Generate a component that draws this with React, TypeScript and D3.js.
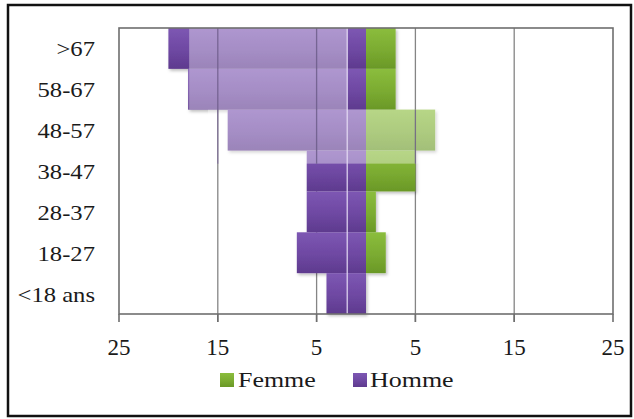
import React from "react";
import * as d3 from "d3";

const categories = [">67", "58-67", "48-57", "38-47", "28-37", "18-27", "<18 ans"];
const hommeValues = [20, 18, 14, 6, 6, 7, 4];
const femmeValues = [3, 3, 7, 5, 1, 2, 0];
const tickValues = [-25, -15, -5, 5, 15, 25];
const gridValues = [-15, -5, 5, 15];
const seriesNames = ["Femme", "Homme"];
// light (washed-out) regions seen in the picture, in data units
const highlightFrom = [-17.9, -16];
const highlightTo = [-1.9, 7.5];
const highlightTopCat = [">67", "48-57"];
const highlightBottomCat = ["58-67", "38-47"];
const highlightBottomFrac = [1, 0.32];
const lightLineValue = -1.9;

const W = 634;
const H = 419;

export default function App() {
  const x = d3.scaleLinear().domain([-25, 25]).range([119, 613]);
  const y = d3.scaleBand<string>().domain(categories).range([28, 314]).padding(0);
  const bw = y.bandwidth();
  const plotTop = 28;
  const plotBottom = 314;

  const hl = highlightFrom.map((f, i) => {
    const y0 = y(highlightTopCat[i])!;
    const y1 = y(highlightBottomCat[i])! + bw * highlightBottomFrac[i];
    return { x0: x(f), x1: x(highlightTo[i]), y0, y1 };
  });

  return (
    <svg
      width={W}
      height={H}
      style={{ position: "absolute", left: 0, top: 0, background: "#fff" }}
    >
      <style>{`.lbl { font-family: 'Liberation Serif', 'Times New Roman', serif !important; }`}</style>
      <defs>
        <linearGradient id="gPurple" x1="0" y1="0" x2="0" y2="1">
          <stop offset="0%" stopColor="#7d57b3" />
          <stop offset="55%" stopColor="#6e48a2" />
          <stop offset="100%" stopColor="#5e3a8e" />
        </linearGradient>
        <linearGradient id="gGreen" x1="0" y1="0" x2="0" y2="1">
          <stop offset="0%" stopColor="#8bbd3d" />
          <stop offset="55%" stopColor="#7bab31" />
          <stop offset="100%" stopColor="#6a9827" />
        </linearGradient>
        <filter id="shadow" x="-10%" y="-10%" width="130%" height="140%">
          <feDropShadow dx="1.5" dy="2" stdDeviation="1.5" floodColor="#000" floodOpacity="0.25" />
        </filter>
        <clipPath id="hlClip">
          {hl.map((r, i) => (
            <rect key={i} x={r.x0} y={r.y0} width={r.x1 - r.x0} height={r.y1 - r.y0} />
          ))}
        </clipPath>
      </defs>

      {/* outer frame */}
      <rect x={8} y={5} width={623} height={411} fill="#fff" stroke="#111" strokeWidth={2.5} />

      {/* gridlines */}
      {gridValues.map((g) => (
        <line key={g} x1={x(g)} x2={x(g)} y1={plotTop} y2={plotBottom + 8} stroke="#858585" strokeWidth={1.3} />
      ))}

      {/* bars */}
      <g filter="url(#shadow)">
        {categories.map((c, i) => (
          <rect
            key={"h" + c}
            x={x(-hommeValues[i])}
            y={y(c)!}
            width={x(0) - x(-hommeValues[i])}
            height={bw}
            fill="url(#gPurple)"
          />
        ))}
        {categories.map((c, i) =>
          femmeValues[i] > 0 ? (
            <rect
              key={"f" + c}
              x={x(0)}
              y={y(c)!}
              width={x(femmeValues[i]) - x(0)}
              height={bw}
              fill="url(#gGreen)"
            />
          ) : null
        )}
      </g>

      {/* washed-out highlight */}
      {hl.map((r, i) => (
        <rect key={i} x={r.x0} y={r.y0} width={r.x1 - r.x0} height={r.y1 - r.y0} fill="#fff" opacity={0.38} />
      ))}
      {/* gridlines visible through highlight */}
      <g clipPath="url(#hlClip)">
        {gridValues.map((g) => (
          <line key={g} x1={x(g)} x2={x(g)} y1={plotTop} y2={plotBottom} stroke="#6a5a86" strokeWidth={1.3} opacity={0.8} />
        ))}
      </g>

      {/* light vertical line */}
      <line
        x1={x(lightLineValue)}
        x2={x(lightLineValue)}
        y1={plotTop}
        y2={plotBottom}
        stroke="#e6dcf5"
        strokeWidth={1.4}
        opacity={0.85}
      />

      {/* plot border */}
      <rect x={x(-25)} y={plotTop} width={x(25) - x(-25)} height={plotBottom - plotTop} fill="none" stroke="#6e6e6e" strokeWidth={1.6} />

      {/* x axis ticks */}
      {tickValues.map((t) => (
        <g key={t}>
          <line x1={x(t)} x2={x(t)} y1={plotBottom} y2={plotBottom + 8} stroke="#6e6e6e" strokeWidth={1.6} />
          <text className="lbl" x={x(t)} y={355} textAnchor="middle" fontSize={23} fill="#1a1a1a">
            {Math.abs(t)}
          </text>
        </g>
      ))}

      {/* category labels */}
      {categories.map((c) => (
        <text
          className="lbl"
          key={c}
          transform={`translate(95, ${y(c)! + bw / 2 + 8}) scale(1.12, 1)`}
          textAnchor="end"
          fontSize={22}
          fill="#1a1a1a"
        >
          {c}
        </text>
      ))}

      {/* legend */}
      <rect x={220} y={373} width={14} height={14} fill="url(#gGreen)" />
      <text className="lbl" transform="translate(238, 387) scale(1.18, 1)" fontSize={22} fill="#1a1a1a">
        {seriesNames[0]}
      </text>
      <rect x={353} y={373} width={14} height={14} fill="url(#gPurple)" />
      <text className="lbl" transform="translate(370, 387) scale(1.18, 1)" fontSize={22} fill="#1a1a1a">
        {seriesNames[1]}
      </text>
    </svg>
  );
}
